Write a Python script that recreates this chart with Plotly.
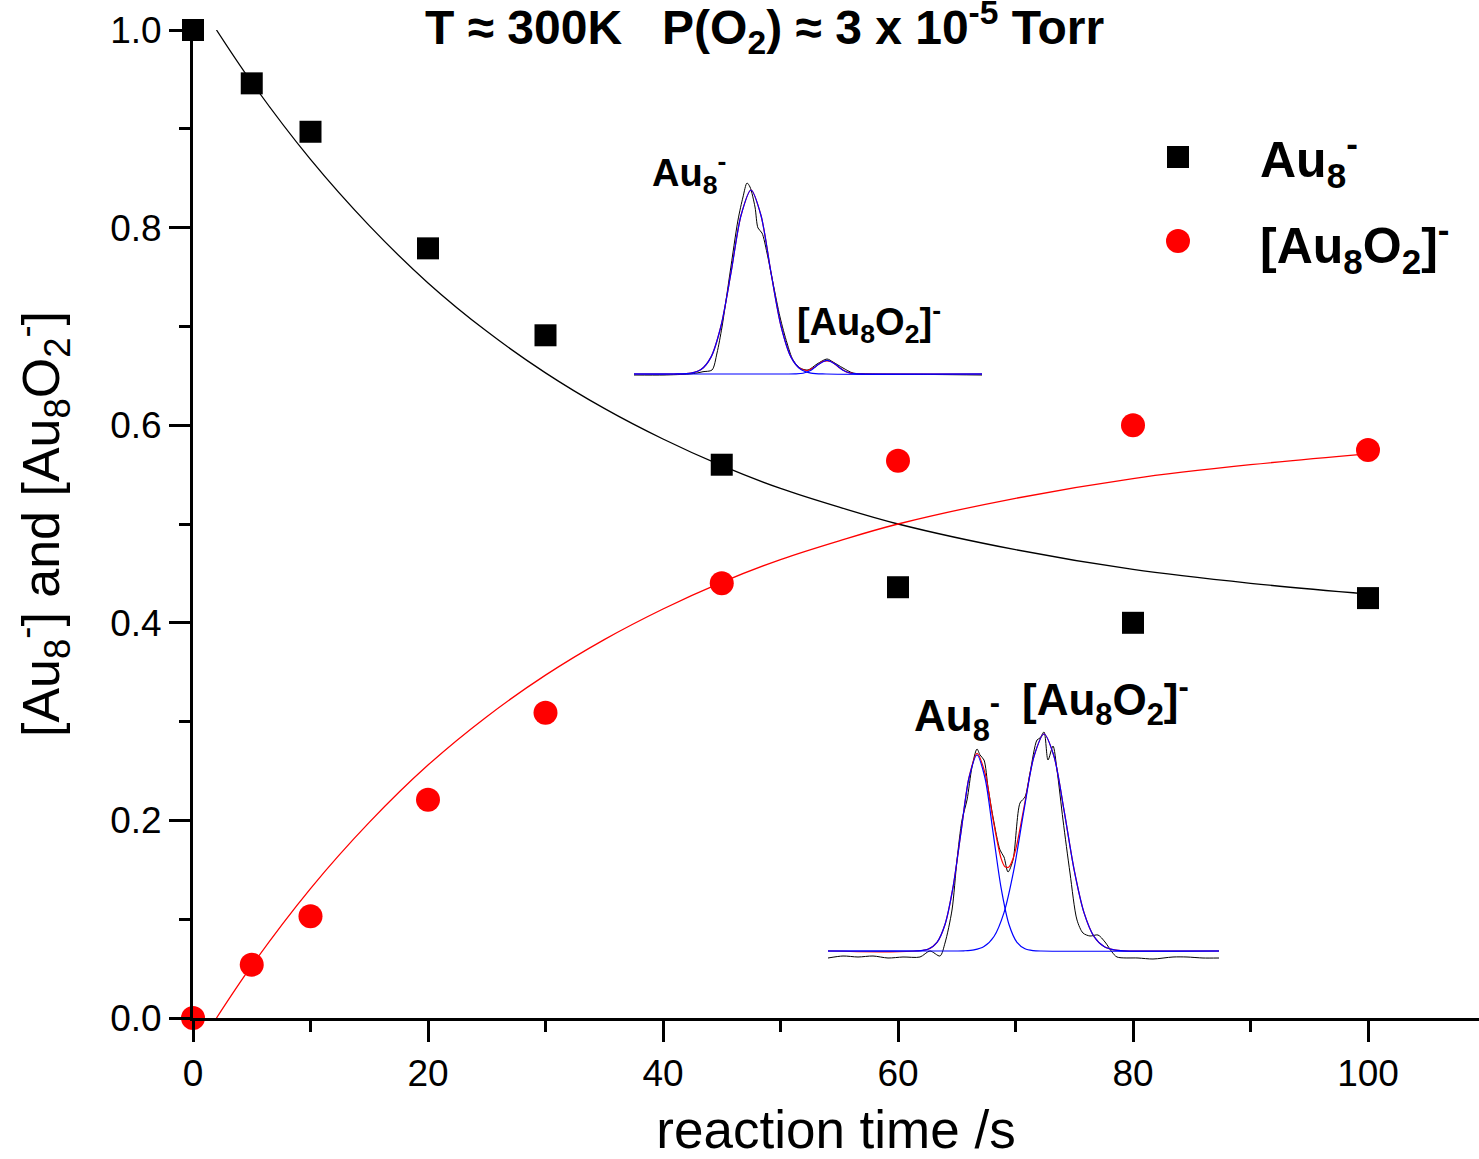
import plotly.graph_objects as go

# ---------------- data ----------------
t_points = [0, 5, 10, 20, 30, 45, 60, 80, 100]
au8 = [1.000, 0.946, 0.897, 0.779, 0.691, 0.560, 0.436, 0.400, 0.425]
au8o2 = [0.000, 0.054, 0.103, 0.221, 0.309, 0.440, 0.564, 0.600, 0.575]

fit_t = [2, 5, 10, 15, 20, 25, 30, 35, 40, 45, 50, 55, 60, 70, 80, 90, 100]
fit_au8 = [1.000, 0.947, 0.869, 0.802, 0.744, 0.695, 0.653, 0.617, 0.586,
           0.559, 0.536, 0.517, 0.500, 0.474, 0.454, 0.440, 0.429]
fit_au8o2 = [0.000, 0.053, 0.131, 0.198, 0.256, 0.305, 0.347, 0.383, 0.414,
             0.441, 0.464, 0.483, 0.500, 0.526, 0.546, 0.560, 0.571]

# inset 1 (early time spectrum), arbitrary units
s1_x = [0, 30, 55, 63, 69, 78, 83, 88, 96, 104, 109, 113, 116, 121, 124, 128,
        133, 139, 146, 153, 159, 166, 174, 183, 193, 199, 209, 219, 236, 300, 348]
s1_y = [-1, -1, 0, 1, 2.3, 4, 21, 47, 101, 154, 177, 191, 187, 167, 146, 141,
        121, 91, 57, 31, 14, 6, 4, 10, 15, 12, 6, 1, 0, -0.5, -1]
f1a_x = [0, 40, 57, 67, 77, 87, 97, 107, 117, 127, 137, 147, 157, 167, 177, 192, 348]
f1a_y = [0, 0, 0.85, 4.4, 16.9, 48, 101.3, 158.5, 184, 158.5, 101.3, 48, 16.9,
         4.4, 0.85, 0, 0]
f1b_x = [0, 150, 161, 169, 177, 185, 193, 201, 209, 217, 225, 236, 348]
f1b_y = [0, 0, 0.08, 0.76, 3.8, 9.9, 13.6, 9.9, 3.8, 0.76, 0.08, 0, 0]
f1s_x = [0, 40, 57, 67, 77, 87, 97, 107, 117, 127, 137, 147, 157, 165, 173, 181,
         189, 197, 205, 213, 221, 229, 240, 348]
f1s_y = [0, 0, 0.85, 4.4, 16.9, 48, 101.3, 158.5, 184, 158.5, 101.3, 48, 16.9,
         6.2, 3.5, 7.0, 12.6, 12.55, 6.6, 1.84, 0.27, 0.02, 0, 0]

# inset 2 (late time spectrum), arbitrary units
s2_x = [0, 15, 30, 45, 60, 75, 92, 102, 112, 117, 124, 129, 134, 139, 144, 149,
        152, 156, 160, 165, 172, 176, 180, 185, 192, 197, 202, 209, 212, 216,
        220, 225, 229, 235, 242, 249, 255, 262, 270, 277, 284, 289, 310, 325,
        345, 359, 375, 391]
s2_y = [-7, -5, -6, -5, -7, -6, -6, 0, -5, 8, 41, 91, 131, 151, 184, 202, 196,
        191, 164, 134, 101, 94, 79, 91, 148, 154, 178, 211, 213, 219, 191, 205,
        181, 131, 78, 31, 18, 15, 16, 9, -1, -6, -7, -8, -6, -6, -7, -7]
f2a_x = [0, 85, 93, 101, 109, 117, 125, 133, 141, 149, 157, 165, 173, 181, 189,
         197, 205, 213, 391]
f2a_y = [0, 0, 0.43, 2.2, 8.6, 26.5, 63.6, 118.9, 173, 196, 173, 118.9, 63.6,
         26.5, 8.6, 2.2, 0.43, 0, 0]
f2b_x = [0, 126, 136, 146, 156, 166, 176, 186, 196, 206, 216, 226, 236, 246,
         256, 266, 276, 286, 296, 391]
f2b_y = [0, 0, 0.2, 1.08, 4.4, 14.5, 38.4, 81.9, 140.8, 194.7, 217, 194.7,
         140.8, 81.9, 38.4, 14.5, 4.4, 1.08, 0.2, 0]
f2s_x = [0, 100, 109, 117, 125, 133, 141, 149, 157, 165, 173, 177, 181, 185,
         189, 197, 206, 216, 226, 236, 246, 256, 266, 276, 286, 296, 391]
f2s_y = [0, 1.8, 8.6, 26.5, 63.6, 119, 173.5, 197.7, 178, 131.9, 92.9, 84.2,
         84.1, 92.3, 107.2, 149, 194.8, 217, 194.7, 140.8, 81.9, 38.4, 14.5,
         4.4, 1.08, 0.2, 0]

x_ticks = [0, 20, 40, 60, 80, 100]
y_ticks = [0.0, 0.2, 0.4, 0.6, 0.8, 1.0]

# ---------------- layout helpers ----------------
W, H = 1479, 1159
L, R, T, B = 193, 0, 30, 141
PW, PH = W - L - R, H - T - B


def px(xp):
    return (xp - L) / PW


def py(yp):
    return (H - B - yp) / PH


REG = "Liberation Sans"
NARROW = "Liberation Sans Narrow, Liberation Sans"

fig = go.Figure()

# fits
fig.add_trace(go.Scatter(x=fit_t, y=fit_au8, mode="lines",
                         line=dict(color="black", width=1.3, shape="spline"),
                         showlegend=False))
fig.add_trace(go.Scatter(x=fit_t, y=fit_au8o2, mode="lines",
                         line=dict(color="#ff0000", width=1.3, shape="spline"),
                         showlegend=False))
# points
fig.add_trace(go.Scatter(x=t_points, y=au8, mode="markers",
                         marker=dict(symbol="square", size=22, color="black"),
                         cliponaxis=False, showlegend=False))
fig.add_trace(go.Scatter(x=t_points, y=au8o2, mode="markers",
                         marker=dict(symbol="circle", size=24, color="#ff0000"),
                         cliponaxis=False, showlegend=False))

# inset 1
for xs, ys, col, w in [(s1_x, s1_y, "black", 1.0), (f1s_x, f1s_y, "#ff0000", 1.2),
                       (f1a_x, f1a_y, "#0000ff", 1.2), (f1b_x, f1b_y, "#0000ff", 1.2)]:
    fig.add_trace(go.Scatter(x=xs, y=ys, mode="lines", xaxis="x2", yaxis="y2",
                             line=dict(color=col, width=w, shape="spline", smoothing=0.8),
                             showlegend=False))
# inset 2
for xs, ys, col, w in [(s2_x, s2_y, "black", 1.0), (f2s_x, f2s_y, "#ff0000", 1.2),
                       (f2a_x, f2a_y, "#0000ff", 1.2), (f2b_x, f2b_y, "#0000ff", 1.2)]:
    fig.add_trace(go.Scatter(x=xs, y=ys, mode="lines", xaxis="x3", yaxis="y3",
                             line=dict(color=col, width=w, shape="spline", smoothing=0.8),
                             showlegend=False))

axis_common = dict(showgrid=False, zeroline=False, showline=True, linecolor="black",
                   linewidth=3, ticks="outside", ticklen=21, tickwidth=3,
                   tickcolor="black", tickfont=dict(family=REG, size=37, color="black"))

fig.update_layout(
    width=W, height=H, autosize=False,
    margin=dict(l=L, r=R, t=T, b=B, pad=0),
    paper_bgcolor="white", plot_bgcolor="white",
    xaxis=dict(**axis_common, range=[0, PW / 11.75], tickvals=x_ticks,
               minor=dict(ticks="outside", ticklen=11, tickwidth=3,
                          tickcolor="black", dtick=10, tick0=0),
               title=dict(text="reaction time /s",
                          font=dict(family=REG, size=53, color="black"),
                          standoff=24)),
    yaxis=dict(**axis_common, range=[0, 1.0], tickvals=y_ticks, tickformat=".1f",
               minor=dict(ticks="outside", ticklen=11, tickwidth=3,
                          tickcolor="black", dtick=0.1, tick0=0),
               title=dict(text="[Au<sub>8</sub><sup>-</sup>] and [Au<sub>8</sub>O<sub>2</sub><sup>-</sup>]",
                          font=dict(family=REG, size=52, color="black"),
                          standoff=34)),
    xaxis2=dict(domain=[px(634), px(982)], range=[0, 348], visible=False,
                anchor="y2", fixedrange=True),
    yaxis2=dict(domain=[py(380), py(180)], range=[-6, 194], visible=False,
                anchor="x2", fixedrange=True),
    xaxis3=dict(domain=[px(828), px(1219)], range=[0, 391], visible=False,
                anchor="y3", fixedrange=True),
    yaxis3=dict(domain=[py(960), py(725)], range=[-9, 226], visible=False,
                anchor="x3", fixedrange=True),
)

# legend symbols
fig.add_shape(type="rect", xref="paper", yref="paper", xsizemode="pixel",
              ysizemode="pixel", xanchor=px(1178), yanchor=py(157),
              x0=-11, x1=11, y0=-11, y1=11, fillcolor="black", line=dict(width=0))
fig.add_shape(type="circle", xref="paper", yref="paper", xsizemode="pixel",
              ysizemode="pixel", xanchor=px(1178), yanchor=py(241),
              x0=-12, x1=12, y0=-12, y1=12, fillcolor="#ff0000", line=dict(width=0))


def label(text, xp, yp, size, family=REG, anchor="left"):
    fig.add_annotation(text="<b>" + text + "</b>", xref="paper", yref="paper",
                       x=px(xp), y=py(yp),
                       xanchor=anchor, yanchor="middle", showarrow=False,
                       font=dict(family=family, size=size, color="black"))


label("Au<sub>8</sub><sup>-</sup>", 1258, 160, 50)
label("[Au<sub>8</sub>O<sub>2</sub>]<sup>-</sup>", 1258, 245, 50)
label("Au<sub>8</sub><sup>-</sup>", 650, 173, 38)
label("[Au<sub>8</sub>O<sub>2</sub>]<sup>-</sup>", 795, 322, 38)
label("Au<sub>8</sub><sup>-</sup>", 912, 716, 44)
label("[Au<sub>8</sub>O<sub>2</sub>]<sup>-</sup>", 1020, 700, 44)
label("T \u2248 300K\u00a0\u00a0\u00a0P(O<sub>2</sub>) \u2248 3 x 10<sup>-5</sup> Torr",
      764, 27, 48, family=NARROW, anchor="center")

fig.write_html("out.html")
